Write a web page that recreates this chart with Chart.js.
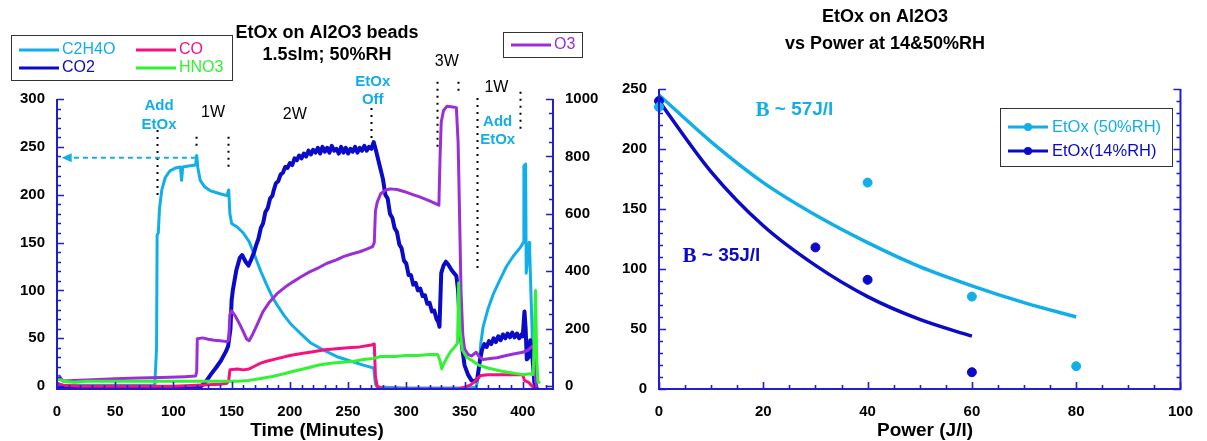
<!DOCTYPE html>
<html><head><meta charset="utf-8">
<script src="https://cdn.jsdelivr.net/npm/chart.js@4.4.1/dist/chart.umd.min.js"></script>
<style>
html,body{margin:0;padding:0;background:#fff;}
#wrap{position:relative;width:1207px;height:441px;overflow:hidden;background:#fff;}
#c1{position:absolute;left:0;top:0;}
#c2{position:absolute;left:600px;top:0;}
</style></head><body>
<div id="wrap"><canvas id="c1" width="600" height="441"></canvas><canvas id="c2" width="607" height="441"></canvas></div>
<script>
// ---------- LEFT PANEL DATA (time in minutes) ----------
const c2h4oTime = [0,40,84,85.5,86,87,88,90,93,97,102,106,107,108,113,119,120,121,123,127,132,140,146,147.5,148.5,150,155,160,165,170,175,180,185,190,195,200,210,218,230,240,250,263,272,273.5,275,300,330,355,360,362,364,366,370,375,380,386,392,398,400.5,401,402.5,403,405.5,406,409.5,412];
const c2h4oPpm  = [1,1,1,40,158,160,185,205,218,225,228,229,215,229,230,231,241,228,215,208,204,201,199,205,180,170,166,160,151,136,120,106,93,83,74,66,54,45,37,31,27,22,19,2,-1,-2,-2,-2,-1,10,45,62,80,97,110,125,136,145,150,230,232,118,150,140,0,-1];

const co2Time = [0,50,100,120,124,128,132,137,141,145,147,149,150,151,154,157,159,162,164.5,167,169,171,173,175,177,179,181,183,185,186,188,190,192,194,196,198,200,202,204,206,208,210,212,214,216,218,220,222,224,226,228,230,232,234,236,238,240,242,244,246,248,250,252,254,256,258,260,262,264,266,268,270,272,274,276,278,280,282,284,286,288,290,292,294,296,298,300,302,304,306,308,310,312,314,316,318,320,322,324,326,327.5,328.5,330,332,334,336,339,343,344.5,346,348,350,353,356,359,361,363,365,367,369,371,373,375,377,379,381,383,385,387,389,391,393,395,397,399,400,401.5,402.5,403.5,405,406.5,408,410,412];
const co2Ppm  = [-2,-2,-2,-1,0,5,12,20,27,36,42,60,90,100,121,134,137,130,126,133,139,147,154,165,170,182,186,196,199,204,212,214,221,223,229,228,233,231,238,236,241,238,243,240,246,242,247,244,249,243,250,245,249,244,251,246,248,243,250,244,249,243,248,245,250,244,249,246,251,246,250,248,255,246,236,226,216,200,196,180,176,165,161,148,144,131,128,116,116,106,108,100,102,94,95,86,87,78,79,70,67,62,118,126,130,127,121,115,100,62,40,22,12,6,5,8,25,38,44,41,47,44,50,46,52,48,54,50,55,51,56,51,55,50,54,52,78,60,28,30,48,35,5,-2];

const coTime = [0,5,20,50,100,120,140,146,147.5,148.5,155,160,165,170,175,180,190,200,210,220,230,240,250,260,270,272.5,273.5,275,280,300,320,345,350,355,359,361,364,370,380,390,400,401.5,405,408,411];
const coPpm  = [3,1,0,0,0,1,2,3,6,17,18,17,18,21,24,26,29,32,34,36,38,39,40,41,43,44,10,0,-3,-3,-3,-3,-1,1,5,8,11,12,12,12,12,6,4,0,-2];

const hno3Time = [0,2,6,15,25,40,60,80,100,120,140,155,165,175,185,195,205,215,225,235,245,255,265,272,278,290,300,310,320,327,329,330.5,332,335,338,341,344,345,346,348,352,356,362,370,380,390,400,406,409,411,412,413,414];
const hno3Ppm  = [10,7,5,4,5,5,5,5,5,5,5,5,6,8,10,13,16,19,22,24,25,26,28,29,31,31,32,32,33,33,26,18,23,30,36,40,45,108,60,38,30,27,22,19,16,14,12,13,12,100,30,5,4];

const o3Time = [0,2,5,15,30,50,70,90,110,119,120,120.5,125,130,135,140,146,147.5,148.5,150,153,157,160,163,165,168,172,177,182,189,196,203,210,217,225,232,240,246,253,260,266,271,272.5,273.5,275,278,282,286,292,298,305,312,320,327,328,329,330,332,335,340,343,344.5,345.5,347,348.5,350,353,356,360,363,366,372,378,385,392,400,404,408,410,411,412];
const o3Ppm  = [20,35,18,20,22,26,28,30,33,35,50,165,168,163,160,158,155,160,250,262,245,215,190,163,158,180,215,260,290,322,345,364,382,398,413,428,440,451,460,468,477,486,500,610,640,670,682,687,685,678,668,658,645,632,630,800,920,960,975,972,970,850,650,330,180,130,110,105,118,100,93,96,99,106,112,118,124,138,135,20,0];

const leftYTicks = [0,50,100,150,200,250,300];
const rightYTicks = [0,200,400,600,800,1000];
const timeTicks = [0,50,100,150,200,250,300,350,400];

// ---------- RIGHT PANEL DATA ----------
const power50 = [0,40,60,80];
const etox50  = [235,172,77,19];
const power14 = [0,30,40,60];
const etox14  = [240,118,91,14];
const fit50Power = [0,10,20,30,40,50,60,70,80];
const fit50Etox  = [245,206,172,145,122,102,86,72,60];
const fit14Power = [0,10,20,30,40,50,60];
const fit14Etox  = [240,181,136,103,77,58,44];
const powerTicks = [0,20,40,60,80,100];
const etoxTicks = [0,50,100,150,200,250];

const C_LB='#12aee8', C_DB='#0a0ac8', C_PK='#f5127e', C_GR='#33f233', C_PU='#9a2fd8', C_AX='#1f1fcf';
const FONT='"Liberation Sans", Arial, sans-serif';
const SERIF='"Liberation Serif", "Times New Roman", serif';
const xy=(xs,ys)=>xs.map((x,i)=>({x:x,y:ys[i]}));

function frameAndTicks(ctx, area, yScale, ySpec, xScale, xSpec, y2Scale, y2Spec){
  ctx.save();
  ctx.strokeStyle=C_AX; ctx.lineWidth=2; ctx.lineCap='butt';
  ctx.beginPath();
  ctx.moveTo(area.left, area.top); ctx.lineTo(area.left, area.bottom);
  ctx.lineTo(area.right, area.bottom); ctx.lineTo(area.right, area.top);
  ctx.stroke();
  ctx.lineWidth=1.6;
  ctx.beginPath();
  for(let v=ySpec.from; v<=ySpec.to+1e-9; v+=ySpec.minor){
    const y=Math.round(yScale.getPixelForValue(v))+0.5;
    const len=(Math.abs(v%ySpec.major)<1e-9)?7:4;
    ctx.moveTo(area.left,y); ctx.lineTo(area.left+len,y);
    if(!y2Scale){ ctx.moveTo(area.right,y); ctx.lineTo(area.right-len,y); }
  }
  if(y2Scale){
    for(let v=y2Spec.from; v<=y2Spec.to+1e-9; v+=y2Spec.minor){
      const y=Math.round(y2Scale.getPixelForValue(v))+0.5;
      const len=(Math.abs(v%y2Spec.major)<1e-9)?7:4;
      ctx.moveTo(area.right,y); ctx.lineTo(area.right-len,y);
    }
  }
  for(let v=xSpec.from; v<=xSpec.to+1e-9; v+=xSpec.minor){
    const x=Math.round(xScale.getPixelForValue(v))+0.5;
    const len=(Math.abs(v%xSpec.major)<1e-9)?7:4;
    ctx.moveTo(x,area.bottom); ctx.lineTo(x,area.bottom-len);
  }
  ctx.stroke();
  ctx.restore();
}
function txt(ctx,s,x,y,font,color,align){
  ctx.font=font; ctx.fillStyle=color; ctx.textAlign=align||'center'; ctx.textBaseline='middle';
  ctx.fillText(s,x,y);
}

const leftDecor={
  id:'leftDecor',
  afterDatasetsDraw(chart){
    const ctx=chart.ctx, a=chart.chartArea, X=chart.scales.x, Y=chart.scales.y, Y2=chart.scales.y2;
    frameAndTicks(ctx,a,Y,{from:0,to:300,minor:10,major:50},X,{from:0,to:420,minor:10,major:50},Y2,{from:0,to:1000,minor:50,major:200});
    const px=t=>X.getPixelForValue(t), py=v=>Y.getPixelForValue(v);
    ctx.save();
    ctx.strokeStyle='#000'; ctx.lineWidth=2; ctx.setLineDash([2,5]);
    [[85.8,267.6,199.8],[119,260.6,246.8],[147,260.6,227.7],[270.1,290.6,257.2],[326.2,318,248.9],[344,318,306],[360.3,301,118.4],[398,307.6,267.6]].forEach(d=>{
      const x=Math.round(px(d[0]))+0.5;
      ctx.beginPath(); ctx.moveTo(x,py(d[1])); ctx.lineTo(x,py(d[2])); ctx.stroke();
    });
    ctx.strokeStyle=C_LB; ctx.setLineDash([5,4]); ctx.lineWidth=2;
    const ay=py(238.7);
    ctx.beginPath(); ctx.moveTo(px(119.3),ay); ctx.lineTo(px(12.6),ay); ctx.stroke();
    ctx.setLineDash([]); ctx.fillStyle=C_LB;
    ctx.beginPath(); ctx.moveTo(px(4),ay); ctx.lineTo(px(12.6),ay-4.5); ctx.lineTo(px(12.6),ay+4.5); ctx.closePath(); ctx.fill();
    ctx.restore();
    const fb='bold 15px '+FONT, fn='16px '+FONT;
    txt(ctx,'Add',px(87.6),py(292.7),fb,C_LB); txt(ctx,'EtOx',px(87.6),py(272.9),fb,C_LB);
    txt(ctx,'1W',px(134),py(285.4),fn,'#000');
    txt(ctx,'2W',px(204.3),py(283.3),fn,'#000');
    txt(ctx,'EtOx',px(271.2),py(317.7),fb,C_LB); txt(ctx,'Off',px(271.2),py(299),fb,C_LB);
    txt(ctx,'3W',px(334.8),py(338.6),fn,'#000');
    txt(ctx,'1W',px(377.4),py(311.5),fn,'#000');
    txt(ctx,'Add',px(378.5),py(276),fb,C_LB); txt(ctx,'EtOx',px(378.5),py(257.2),fb,C_LB);
    txt(ctx,'EtOx on Al2O3 beads',327,33,'bold 18px '+FONT,'#000');
    txt(ctx,'1.5slm; 50%RH',327,55,'bold 18px '+FONT,'#000');
    txt(ctx,'Time (Minutes)',317,431,'bold 19px '+FONT,'#000');
    ctx.save();
    ctx.strokeStyle='#333'; ctx.lineWidth=1; ctx.strokeRect(11.5,35.5,221,45);
    ctx.strokeRect(503.5,32.5,79,25);
    ctx.lineWidth=3; ctx.lineCap='butt';
    const leg=[[C_LB,'C2H4O',19,50],[C_PK,'CO',136,50],[C_DB,'CO2',19,68],[C_GR,'HNO3',136,68]];
    leg.forEach(l=>{ ctx.strokeStyle=l[0]; ctx.beginPath(); ctx.moveTo(l[2],l[3]); ctx.lineTo(l[2]+40,l[3]); ctx.stroke();
      txt(ctx,l[1],l[2]+43,l[3],'16px '+FONT,l[0],'left'); });
    ctx.strokeStyle=C_PU; ctx.beginPath(); ctx.moveTo(511,45); ctx.lineTo(551,45); ctx.stroke();
    txt(ctx,'O3',554,45,'16px '+FONT,C_PU,'left');
    ctx.restore();
  }
};

const lineDs=(label,xs,ys,color,w,axis)=>({label,data:xy(xs,ys),borderColor:color,backgroundColor:color,borderWidth:w,pointRadius:0,tension:0,fill:false,yAxisID:axis,borderJoinStyle:'round',borderCapStyle:'round'});
const tickFont={family:FONT,size:15,weight:'bold'};

new Chart(document.getElementById('c1'),{
  type:'line',
  data:{datasets:[
    lineDs('HNO3',hno3Time,hno3Ppm,C_GR,3,'y'),
    lineDs('CO',coTime,coPpm,C_PK,3,'y'),
    lineDs('O3',o3Time,o3Ppm,C_PU,3,'y2'),
    lineDs('CO2',co2Time,co2Ppm,C_DB,4,'y'),
    lineDs('C2H4O',c2h4oTime,c2h4oPpm,C_LB,3,'y')
  ]},
  options:{
    responsive:false, animation:false, devicePixelRatio:1,
    layout:{padding:{top:99,left:0,right:0,bottom:0}},
    plugins:{legend:{display:false},tooltip:{enabled:false}},
    scales:{
      x:{type:'linear',min:0,max:426,
        afterBuildTicks:s=>{s.ticks=timeTicks.map(v=>({value:v}));},
        afterFit:s=>{s.height=52;},
        grid:{display:false,drawTicks:false},border:{display:false},
        ticks:{font:tickFont,color:'#000',padding:14,maxRotation:0,callback:v=>String(v)}},
      y:{type:'linear',position:'left',min:-3,max:300,
        afterBuildTicks:s=>{s.ticks=leftYTicks.map(v=>({value:v}));},
        afterFit:s=>{s.width=57;},
        grid:{display:false,drawTicks:false},border:{display:false},
        ticks:{font:tickFont,color:'#000',padding:12,callback:v=>String(v)}},
      y2:{type:'linear',position:'right',min:-10,max:1000,
        afterBuildTicks:s=>{s.ticks=rightYTicks.map(v=>({value:v}));},
        afterFit:s=>{s.width=47;},
        grid:{display:false,drawTicks:false},border:{display:false},
        ticks:{font:tickFont,color:'#000',padding:12,callback:v=>String(v)}}
    }
  },
  plugins:[leftDecor]
});

function betaLabel(ctx,num,x,y,color){
  ctx.fillStyle=color; ctx.textAlign='left'; ctx.textBaseline='middle';
  ctx.font='bold 21px '+SERIF; ctx.fillText('B',x,y+1);
  const w=ctx.measureText('B').width;
  ctx.font='bold 19px '+FONT; ctx.fillText(' ~ '+num,x+w,y);
}

const rightDecor={
  id:'rightDecor',
  afterDatasetsDraw(chart){
    const ctx=chart.ctx, a=chart.chartArea, X=chart.scales.x, Y=chart.scales.y;
    frameAndTicks(ctx,a,Y,{from:0,to:250,minor:10,major:50},X,{from:0,to:100,minor:5,major:20},null,null);
    const px=t=>X.getPixelForValue(t), py=v=>Y.getPixelForValue(v);
    txt(ctx,'EtOx on Al2O3',285,17,'bold 18px '+FONT,'#000');
    txt(ctx,'vs Power at 14&50%RH',285,44,'bold 18px '+FONT,'#000');
    txt(ctx,'Power (J/l)',325,431,'bold 19px '+FONT,'#000');
    betaLabel(ctx,'57J/l',px(18.5),py(232.5),C_LB);
    betaLabel(ctx,'35J/l',px(4.5),py(110.8),C_DB);
    ctx.save();
    ctx.fillStyle='#fff'; ctx.fillRect(400,108,173,59);
    ctx.strokeStyle='#333'; ctx.lineWidth=1; ctx.strokeRect(400.5,108.5,172,58);
    [[C_LB,'EtOx (50%RH)',127],[C_DB,'EtOx(14%RH)',151]].forEach(l=>{
      ctx.strokeStyle=l[0]; ctx.lineWidth=3; ctx.beginPath(); ctx.moveTo(408,l[2]); ctx.lineTo(448,l[2]); ctx.stroke();
      ctx.fillStyle=l[0]; ctx.beginPath(); ctx.arc(428,l[2],4,0,Math.PI*2); ctx.fill();
      txt(ctx,l[1],452,l[2],'16.5px '+FONT,l[0],'left');
    });
    ctx.restore();
  }
};

new Chart(document.getElementById('c2'),{
  type:'scatter',
  data:{datasets:[
    {label:'EtOx (50%RH)',data:xy(power50,etox50),backgroundColor:C_LB,borderColor:C_LB,pointRadius:4.5,showLine:false,clip:false},
    {label:'EtOx(14%RH)',data:xy(power14,etox14),backgroundColor:C_DB,borderColor:C_DB,pointRadius:4.5,showLine:false,clip:false},
    {label:'fit50',data:xy(fit50Power,fit50Etox),borderColor:C_LB,borderWidth:3.5,pointRadius:0,showLine:true,tension:0.4,cubicInterpolationMode:'monotone'},
    {label:'fit14',data:xy(fit14Power,fit14Etox),borderColor:C_DB,borderWidth:3.5,pointRadius:0,showLine:true,tension:0.4,cubicInterpolationMode:'monotone'}
  ]},
  options:{
    responsive:false, animation:false, devicePixelRatio:1,
    layout:{padding:{top:89,left:0,right:19,bottom:0}},
    plugins:{legend:{display:false},tooltip:{enabled:false}},
    scales:{
      x:{type:'linear',min:0,max:100,
        afterBuildTicks:s=>{s.ticks=powerTicks.map(v=>({value:v}));},
        afterFit:s=>{s.height=52;},
        grid:{display:false,drawTicks:false},border:{display:false},
        ticks:{font:tickFont,color:'#000',padding:14,maxRotation:0,callback:v=>String(v)}},
      y:{type:'linear',min:0,max:250,
        afterBuildTicks:s=>{s.ticks=etoxTicks.map(v=>({value:v}));},
        afterFit:s=>{s.width=59;},
        grid:{display:false,drawTicks:false},border:{display:false},
        ticks:{font:tickFont,color:'#000',padding:12,callback:v=>String(v)}}
    }
  },
  plugins:[rightDecor]
});
</script>
</body></html>
